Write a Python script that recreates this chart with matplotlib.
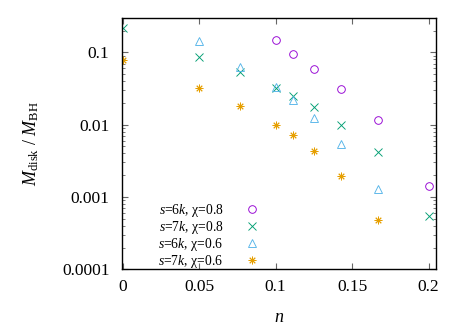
import matplotlib
matplotlib.use("Agg")
import matplotlib.pyplot as plt
from matplotlib.ticker import FixedLocator, FixedFormatter, LogLocator, NullFormatter, NullLocator

plt.rcParams['font.family'] = ['Liberation Serif', 'DejaVu Serif']
plt.rcParams['mathtext.fontset'] = 'custom'
plt.rcParams['mathtext.rm'] = 'Liberation Serif'
plt.rcParams['mathtext.it'] = 'Liberation Serif:italic'
plt.rcParams['mathtext.bf'] = 'Liberation Serif:bold'

# Data
n_circ = [1/10, 1/9, 1/8, 1/7, 1/6, 1/5]
m_circ = [0.1466, 0.0958, 0.0588, 0.0308, 0.01148, 0.00142]

n_cross = [0.0, 1/20, 1/13, 1/10, 1/9, 1/8, 1/7, 1/6, 1/5]
m_cross = [0.2147, 0.0871, 0.0529, 0.0321, 0.0252, 0.01738, 0.01005, 0.00415, 0.00054]

n_tri = [1/20, 1/13, 1/10, 1/9, 1/8, 1/7, 1/6]
m_tri = [0.145, 0.0627, 0.0330, 0.0217, 0.0125, 0.00546, 0.00129]

n_star = [0.0, 1/20, 1/13, 1/10, 1/9, 1/8, 1/7, 1/6]
m_star = [0.0783, 0.0325, 0.0181, 0.00990, 0.00713, 0.00432, 0.00197, 0.00048]

labels = [r'$s$=6$k$, χ=0.8', r'$s$=7$k$, χ=0.8', r'$s$=6$k$, χ=0.6', r'$s$=7$k$, χ=0.6']
colors = ['#9400D3', '#009E73', '#56B4E9', '#E69F00']

xticks = [0, 0.05, 0.1, 0.15, 0.2]
xticklabels = ['0', '0.05', '0.1', '0.15', '0.2']
yticks = [1e-4, 1e-3, 1e-2, 1e-1]
yticklabels = ['0.0001', '0.001', '0.01', '0.1']

fig = plt.figure(figsize=(4.69, 3.28), dpi=100)
ax = fig.add_axes([0.260, 0.179, 0.670, 0.765])

ms = 5.5
ax.plot(n_circ, m_circ, ls='none', marker='o', mfc='none', mec=colors[0], mew=0.65, ms=ms, label=labels[0])
ax.plot(n_cross, m_cross, ls='none', marker='x', mfc='none', mec=colors[1], mew=0.65, ms=ms, label=labels[1])
ax.plot(n_tri, m_tri, ls='none', marker='^', mfc='none', mec=colors[2], mew=0.65, ms=ms, label=labels[2])
ax.plot(n_star, m_star, ls='none', marker=(8, 2, 0), mfc='none', mec=colors[3], mew=0.65, ms=ms, label=labels[3])

ax.set_yscale('log')
ax.set_xlim(-0.0005, 0.205)
ax.set_ylim(1e-4, 0.295)

ax.xaxis.set_major_locator(FixedLocator(xticks))
ax.xaxis.set_major_formatter(FixedFormatter(xticklabels))
ax.xaxis.set_minor_locator(NullLocator())
ax.yaxis.set_major_locator(FixedLocator(yticks))
ax.yaxis.set_major_formatter(FixedFormatter(yticklabels))
ax.yaxis.set_minor_locator(LogLocator(base=10, subs=range(2, 10)))
ax.yaxis.set_minor_formatter(NullFormatter())

ax.tick_params(which='both', direction='in', top=True, right=True, color='#666666', labelsize=12.5)
ax.tick_params(which='major', length=4, width=0.8)
ax.tick_params(axis='x', which='major', pad=7)
ax.tick_params(axis='y', which='major', pad=9)
ax.tick_params(which='minor', length=2, width=0.6)
for sp in ax.spines.values():
    sp.set_linewidth(1.0)
    sp.set_color('black')

ax.set_xlabel(r'$n$', fontsize=13, labelpad=10)
ax.set_ylabel(r'$M_{\rm disk}$ / $M_{\rm BH}$', fontsize=13, labelpad=15)

leg = ax.legend(loc='lower left', bbox_to_anchor=(0.09, -0.035), frameon=False, markerfirst=False,
                fontsize=9.8, handlelength=1.0, handletextpad=1.6, labelspacing=0.0,
                borderaxespad=0.2)

fig.savefig('out.png', dpi=100)
